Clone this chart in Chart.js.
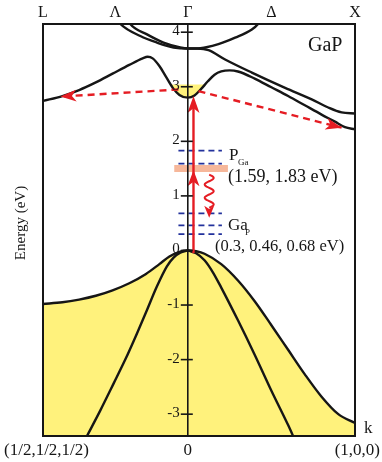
<!DOCTYPE html>
<html>
<head>
<meta charset="utf-8">
<script src="https://cdn.jsdelivr.net/npm/chart.js@4"></script>
<style>
  html, body { margin: 0; padding: 0; background: #fff; }
  #wrap { width: 382px; height: 462px; }
</style>
</head>
<body>
<div id="wrap"><canvas id="band" width="382" height="462"></canvas></div>
<script>
// k along L - Γ - X in units of 2π/a (L sits at -√3/2)
const kTicks = [-0.866, -0.433, 0, 0.5, 1];
const kTickLabels = ['L', 'Λ', 'Γ', 'Δ', 'X'];
const energyTicks = [-3, -2, -1, 0, 1, 2, 3, 4];

// bands, [k, E in eV]
const vbHeavy = [[-0.866, -0.98], [-0.75, -0.95], [-0.65, -0.9], [-0.55, -0.83], [-0.45, -0.73],
  [-0.35, -0.6], [-0.25, -0.43], [-0.17, -0.25], [-0.11, -0.11], [-0.05, -0.025], [0, 0],
  [0.05, -0.015], [0.1, -0.06], [0.2, -0.25], [0.3, -0.55], [0.4, -0.93], [0.5, -1.37], [0.6, -1.82],
  [0.7, -2.27], [0.8, -2.68], [0.9, -3.0], [1, -3.16]];
const vbLightL = [[-0.62, -3.5], [-0.603, -3.4], [-0.523, -2.93], [-0.444, -2.44], [-0.374, -2.0],
  [-0.304, -1.52], [-0.244, -1.09], [-0.185, -0.66], [-0.125, -0.29], [-0.085, -0.13], [-0.045, -0.04], [0, 0]];
const vbLightR = [[0, 0], [0.05, -0.05], [0.1, -0.18], [0.15, -0.4], [0.2, -0.68], [0.3, -1.28],
  [0.4, -1.91], [0.5, -2.57], [0.6, -3.2], [0.64, -3.47]];
const cbLow = [[-0.866, 2.74], [-0.75, 2.83], [-0.65, 2.94], [-0.55, 3.08], [-0.45, 3.24], [-0.35, 3.4],
  [-0.27, 3.52], [-0.24, 3.55], [-0.21, 3.52], [-0.17, 3.38], [-0.13, 3.18], [-0.09, 2.98], [-0.05, 2.85],
  [0, 2.8], [0.04, 2.84], [0.08, 2.96], [0.12, 3.1], [0.16, 3.22], [0.2, 3.28], [0.25, 3.3], [0.3, 3.28],
  [0.4, 3.15], [0.5, 2.99], [0.6, 2.83], [0.7, 2.66], [0.8, 2.49], [0.88, 2.36], [0.94, 2.26], [1, 2.22]];
const cbUpA = [[-0.45, 4.35], [-0.403, 4.15], [-0.284, 3.93], [-0.185, 3.81], [-0.085, 3.72], [0, 3.7],
  [0.06, 3.7], [0.124, 3.67], [0.223, 3.5], [0.383, 3.26], [0.582, 2.98], [0.741, 2.77], [0.84, 2.62],
  [0.92, 2.53], [1, 2.51]];
const cbUpB = [[-0.38, 4.35], [-0.344, 4.15], [-0.244, 3.96], [-0.145, 3.81], [-0.045, 3.72], [0, 3.7],
  [0.06, 3.7], [0.104, 3.72], [0.183, 3.78], [0.283, 3.9], [0.383, 4.05], [0.42, 4.15], [0.45, 4.3]];

// electrons pooled at the Γ minimum, filled up to this energy
const gammaPocketTop = 3.04;

// defect levels (eV) and the span of k they are drawn over
const pGaLevels = [1.59, 1.83];
const gaPLevels = [0.3, 0.46, 0.68];
const levelSpan = [-0.056, 0.204];

// excitation band and arrows
const bandSpan = [-0.081, 0.24];
const bandEnergy = 1.5;
const pumpK = 0.034;
const pumpE = [-0.05, 1.47, 2.83];          // start, middle head, tip
const relaxK = 0.128;
const relaxE = [1.39, 0.6];                  // start, tip
const scatterLeft = [[-0.056, 2.95], [-0.762, 2.82]];
const scatterRight = [[0.064, 2.92], [0.92, 2.25]];

const BLACK = '#161616';
const YELLOW = '#fff27c';
const RED = '#e51c23';
const BLUE = '#22319c';
const SERIF = '"Liberation Serif", "Times New Roman", serif';

const pts = arr => arr.map(([x, y]) => ({ x, y }));

function bandLine(arr, extra) {
    return Object.assign({
        data: pts(arr),
        borderColor: BLACK,
        borderWidth: 2.4,
        pointRadius: 0,
        cubicInterpolationMode: 'monotone',
        fill: false
    }, extra || {});
}

function flatLine(span, e, extra) {
    return Object.assign({
        data: pts([[span[0], e], [span[1], e]]),
        pointRadius: 0,
        tension: 0,
        fill: false
    }, extra);
}

// first dataset ends up on top
const datasets = [];
datasets.push({
    data: pts([[pumpK, pumpE[0]], [pumpK, pumpE[2] - 0.1]]),
    borderColor: RED, borderWidth: 2.4, pointRadius: 0, tension: 0, fill: false
});
datasets.push({
    data: pts(scatterLeft), borderColor: RED, borderWidth: 2.4, borderDash: [7, 5],
    pointRadius: 0, tension: 0, fill: false
});
datasets.push({
    data: pts(scatterRight), borderColor: RED, borderWidth: 2.4, borderDash: [7, 5],
    pointRadius: 0, tension: 0, fill: false
});
pGaLevels.concat(gaPLevels).forEach(e => {
    datasets.push(flatLine(levelSpan, e, { borderColor: BLUE, borderWidth: 1.8, borderDash: [6, 4] }));
});
datasets.push(flatLine(bandSpan, bandEnergy, { borderColor: '#f6b79a', borderWidth: 7, borderCapStyle: 'butt' }));

const cbLowIndex = datasets.length;
datasets.push(bandLine(cbLow));
datasets.push(bandLine(cbUpA));
datasets.push(bandLine(cbUpB));
datasets.push(bandLine(vbLightL));
datasets.push(bandLine(vbLightR));
datasets.push(bandLine(vbHeavy, { fill: 'start', backgroundColor: YELLOW }));
datasets.push(flatLine([-0.2, 0.2], gammaPocketTop, {
    borderWidth: 0,
    fill: { target: cbLowIndex, above: YELLOW, below: 'rgba(0,0,0,0)' }
}));

function arrowHead(ctx, tx, ty, angle, len, half) {
    ctx.save();
    ctx.translate(tx, ty);
    ctx.rotate(angle);
    ctx.beginPath();
    ctx.moveTo(0, 0);
    ctx.lineTo(-len, -half);
    ctx.lineTo(-len * 0.72, 0);
    ctx.lineTo(-len, half);
    ctx.closePath();
    ctx.fill();
    ctx.restore();
}

const decorations = {
    id: 'decorations',
    afterDatasetsDraw(chart) {
        const { ctx, chartArea: a, scales: { x, y } } = chart;
        const gx = x.getPixelForValue(0);
        ctx.save();

        // arrow heads
        ctx.fillStyle = RED;
        arrowHead(ctx, x.getPixelForValue(pumpK), y.getPixelForValue(pumpE[2]), -Math.PI / 2, 17, 6);
        arrowHead(ctx, x.getPixelForValue(pumpK), y.getPixelForValue(pumpE[1]), -Math.PI / 2, 16, 6);
        [scatterLeft, scatterRight].forEach(s => {
            const x0 = x.getPixelForValue(s[0][0]), y0 = y.getPixelForValue(s[0][1]);
            const x1 = x.getPixelForValue(s[1][0]), y1 = y.getPixelForValue(s[1][1]);
            arrowHead(ctx, x1, y1, Math.atan2(y1 - y0, x1 - x0), 16, 6);
        });

        // wavy relaxation arrow
        const wx = x.getPixelForValue(relaxK);
        const wy0 = y.getPixelForValue(relaxE[0]);
        const wy1 = y.getPixelForValue(relaxE[1]) - 10;
        ctx.strokeStyle = RED;
        ctx.lineWidth = 2;
        ctx.beginPath();
        for (let t = 0; t <= 1.0001; t += 0.02) {
            const yy = wy0 + (wy1 - wy0) * t;
            const xx = wx + 4.5 * Math.sin(t * Math.PI * 5);
            if (t === 0) ctx.moveTo(xx, yy); else ctx.lineTo(xx, yy);
        }
        ctx.stroke();
        arrowHead(ctx, wx, y.getPixelForValue(relaxE[1]), Math.PI / 2, 12, 5);

        // Γ axis with its energy ticks
        ctx.strokeStyle = BLACK;
        ctx.fillStyle = BLACK;
        ctx.lineWidth = 1.6;
        ctx.beginPath();
        ctx.moveTo(gx, a.top);
        ctx.lineTo(gx, a.bottom);
        ctx.stroke();
        ctx.font = '15px ' + SERIF;
        ctx.textAlign = 'right';
        ctx.textBaseline = 'middle';
        energyTicks.forEach(v => {
            const ty = y.getPixelForValue(v);
            ctx.beginPath();
            ctx.moveTo(gx - 7, ty);
            ctx.lineTo(gx + 5, ty);
            ctx.stroke();
            ctx.fillText(String(v), gx - 8, ty - 1);
        });

        // frame
        ctx.lineWidth = 2;
        ctx.strokeRect(a.left, a.top, a.right - a.left, a.bottom - a.top);

        // symmetry points on top
        ctx.font = '16px ' + SERIF;
        ctx.textAlign = 'center';
        kTicks.forEach((k, i) => {
            ctx.fillText(kTickLabels[i], x.getPixelForValue(k), a.top - 11);
        });

        // bottom labels
        ctx.font = '17px ' + SERIF;
        ctx.fillText('0', gx, a.bottom + 15);
        ctx.textAlign = 'left';
        ctx.fillText('(1/2,1/2,1/2)', 4, a.bottom + 15);
        ctx.textAlign = 'right';
        ctx.fillText('(1,0,0)', chart.width - 2, a.bottom + 15);
        ctx.textAlign = 'left';
        ctx.fillText('k', a.right + 9, a.bottom - 7);

        // axis title
        ctx.save();
        ctx.translate(21, 223);
        ctx.rotate(-Math.PI / 2);
        ctx.textAlign = 'center';
        ctx.font = '15px ' + SERIF;
        ctx.fillText('Energy (eV)', 0, 0);
        ctx.restore();

        // material and level labels
        ctx.textAlign = 'left';
        ctx.textBaseline = 'alphabetic';
        ctx.font = '20px ' + SERIF;
        ctx.fillText('GaP', 308, 51);

        const lx = x.getPixelForValue(levelSpan[1]) + 7;
        ctx.font = '17px ' + SERIF;
        ctx.fillText('P', lx, 160);
        ctx.font = '9px ' + SERIF;
        ctx.fillText('Ga', lx + 9, 165);
        ctx.font = '18px ' + SERIF;
        ctx.fillText('(1.59, 1.83 eV)', lx - 1, 182);

        ctx.font = '17px ' + SERIF;
        ctx.fillText('Ga', lx - 1, 230);
        ctx.font = '9px ' + SERIF;
        ctx.fillText('P', lx + 16, 235);
        ctx.font = '16.5px ' + SERIF;
        ctx.fillText('(0.3, 0.46, 0.68 eV)', lx - 14, 251);

        ctx.restore();
    }
};

new Chart(document.getElementById('band'), {
    type: 'line',
    data: { datasets: datasets },
    options: {
        responsive: false,
        animation: false,
        devicePixelRatio: 1,
        layout: { padding: { left: 43, right: 27, top: 24, bottom: 26 } },
        plugins: { legend: { display: false }, tooltip: { enabled: false } },
        scales: {
            x: { type: 'linear', min: -0.866, max: 1, display: false },
            y: { type: 'linear', min: -3.4, max: 4.15, display: false }
        }
    },
    plugins: [decorations]
});
</script>
</body>
</html>
